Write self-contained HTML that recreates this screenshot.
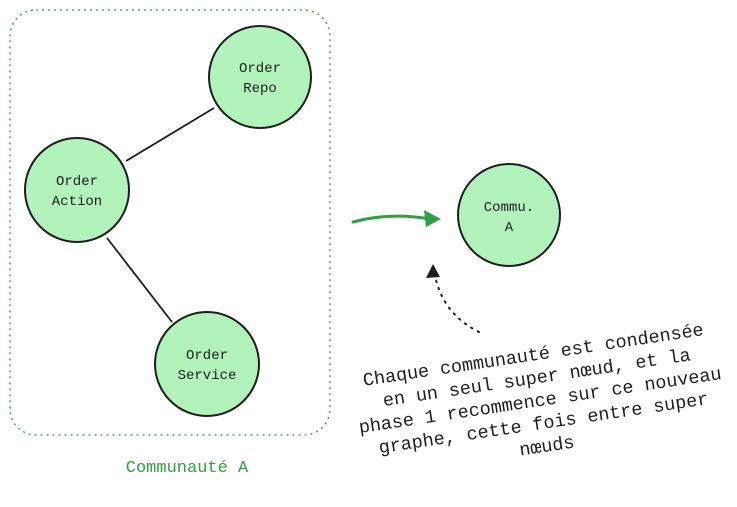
<!DOCTYPE html>
<html><head><meta charset="utf-8"><style>
html,body{margin:0;padding:0;background:#fff;width:737px;height:507px;overflow:hidden}
svg text{font-family:"Liberation Mono","DejaVu Sans Mono",monospace}
</style></head><body>
<svg width="737" height="507" viewBox="0 0 737 507" xmlns="http://www.w3.org/2000/svg">
<rect x="10" y="10" width="320" height="425" rx="26" fill="none" stroke="#2f9e44" stroke-width="1.3" stroke-dasharray="2 4"/>
<line x1="214" y1="108" x2="126" y2="161" stroke="#1e1e1e" stroke-width="1.8"/>
<line x1="107" y1="238" x2="172" y2="322" stroke="#1e1e1e" stroke-width="1.8"/>
<g fill="#b2f2bb" stroke="#1e1e1e" stroke-width="2">
<circle cx="260" cy="77" r="51"/>
<circle cx="77" cy="190" r="52"/>
<circle cx="207" cy="364" r="52"/>
<circle cx="509" cy="215" r="51"/>
</g>
<g font-size="14" fill="#1e1e1e" text-anchor="middle">
<text x="260" y="72">Order</text><text x="260" y="92">Repo</text>
<text x="77" y="185">Order</text><text x="77" y="205">Action</text>
<text x="207" y="359">Order</text><text x="207" y="379">Service</text>
<text x="509" y="211">Commu.</text><text x="509" y="231">A</text>
</g>
<path d="M353 222 Q390 212 430 219" fill="none" stroke="#2f9e44" stroke-width="3" stroke-linecap="round"/>
<path d="M441 219 L424 210 L426 227 Z" fill="#2f9e44"/>
<path d="M479 332 Q445 315 436 280" fill="none" stroke="#1e1e1e" stroke-width="2" stroke-dasharray="1.5 6" stroke-linecap="round"/>
<path d="M426 278 L433 264 L440 277 Z" fill="#1e1e1e"/>
<text x="187" y="472" font-size="17" fill="#2f9e44" text-anchor="middle">Communauté A</text>
<g transform="rotate(-8.5 540 400)" font-size="18.5" fill="#1e1e1e" text-anchor="middle">
<text x="540" y="360">Chaque communauté est condensée</text>
<text x="540" y="383">en un seul super nœud, et la</text>
<text x="540" y="406">phase 1 recommence sur ce nouveau</text>
<text x="540" y="429">graphe, cette fois entre super</text>
<text x="540" y="452">nœuds</text>
</g>
</svg>
</body></html>
